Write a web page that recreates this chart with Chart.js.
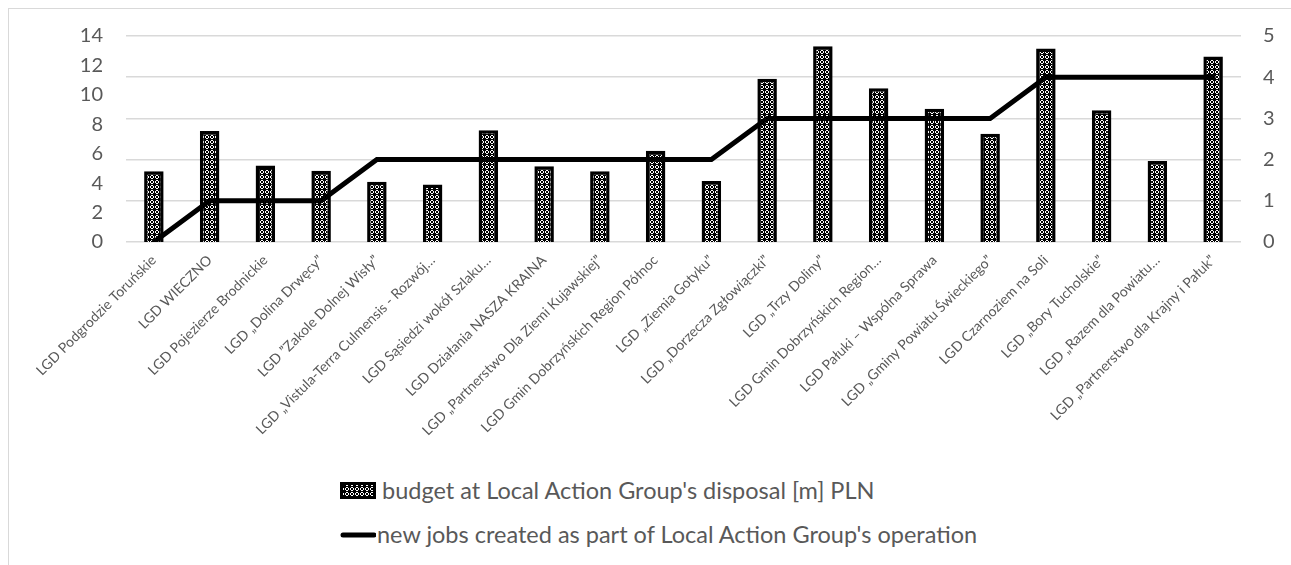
<!DOCTYPE html>
<html>
<head>
<meta charset="utf-8">
<script src="https://cdn.jsdelivr.net/npm/chart.js@4.4.1/dist/chart.umd.min.js"></script>
<style>
  html, body { margin:0; padding:0; background:#fff; width:1291px; height:565px; overflow:hidden; }
  #frame { position:absolute; left:8px; top:8px; width:1400px; height:700px; border-left:1px solid #d9d9d9; border-top:1px solid #d9d9d9; }
  #c { position:absolute; left:0; top:0; }
  .leg { position:absolute; font-family: Lato, "Noto Sans", sans-serif; font-size:23.5px; color:#595959; white-space:nowrap; line-height:28px; }
  .leg canvas, .leg span { vertical-align:middle; }
</style>
</head>
<body>
<div id="frame"></div>
<canvas id="c" width="1291" height="470"></canvas>
<div class="leg" id="leg1" style="left:340px; top:473px;"><canvas id="sw" width="36" height="17" style="margin-right:6px;"></canvas><span>budget at Local Action Group's disposal [m] PLN</span></div>
<div class="leg" id="leg2" style="left:340px; top:517px;"><canvas id="ln" width="36" height="17" style="margin-right:1px;"></canvas><span>new jobs created as part of Local Action Group's operation</span></div>
<script>
const categories = [
  "LGD Podgrodzie Toruńskie",
  "LGD WIECZNO",
  "LGD Pojezierze Brodnickie",
  "LGD „Dolina Drwęcy”",
  "LGD ”Zakole Dolnej Wisły”",
  "LGD „Vistula-Terra Culmensis - Rozwój…",
  "LGD Sąsiedzi wokół Szlaku…",
  "LGD Działania NASZA KRAINA",
  "LGD „Partnerstwo Dla Ziemi Kujawskiej”",
  "LGD Gmin Dobrzyńskich Region Północ",
  "LGD „Ziemia Gotyku”",
  "LGD „Dorzecza Zgłowiączki”",
  "LGD „Trzy Doliny”",
  "LGD Gmin Dobrzyńskich Region…",
  "LGD Pałuki – Wspólna Sprawa",
  "LGD „Gminy Powiatu Świeckiego”",
  "LGD Czarnoziem na Soli",
  "LGD „Bory Tucholskie”",
  "LGD „Razem dla Powiatu…",
  "LGD „Partnerstwo dla Krajny i Pałuk”"
];
const budget = [4.8, 7.55, 5.2, 4.85, 4.1, 3.9, 7.6, 5.15, 4.8, 6.2, 4.15, 11.1, 13.3, 10.45, 9.05, 7.35, 13.15, 8.95, 5.5, 12.6];
const jobs = [0, 1, 1, 1, 2, 2, 2, 2, 2, 2, 2, 3, 3, 3, 3, 3, 4, 4, 4, 4];
const leftTicks = { min: 0, max: 14, step: 2 };
const rightTicks = { min: 0, max: 5, step: 1 };
const seriesNames = ["budget at Local Action Group's disposal [m] PLN", "new jobs created as part of Local Action Group's operation"];

function makePattern(ctx) {
  const t = document.createElement('canvas');
  t.width = 5; t.height = 5;
  const tc = t.getContext('2d');
  tc.fillStyle = '#000'; tc.fillRect(0, 0, 5, 5);
  tc.fillStyle = '#fff';
  const px = [[1,0],[2,0],[0,1],[3,1],[0,2],[3,2],[1,3],[2,3]];
  px.forEach(p => tc.fillRect(p[0], p[1], 1, 1));
  return ctx.createPattern(t, 'repeat');
}

const ctx = document.getElementById('c').getContext('2d');
const pattern = makePattern(ctx);

// legend swatches
(function(){
  const s = document.getElementById('sw').getContext('2d');
  s.fillStyle = makePattern(s); s.fillRect(0, 0, 36, 17);
  s.strokeStyle = '#000'; s.lineWidth = 3; s.strokeRect(1.5, 1.5, 33, 14);
  const l = document.getElementById('ln').getContext('2d');
  l.strokeStyle = '#000'; l.lineWidth = 5; l.lineCap = 'round';
  l.beginPath(); l.moveTo(3, 9); l.lineTo(34, 9); l.stroke();
})();

new Chart(ctx, {
  data: {
    labels: categories,
    datasets: [
      {
        type: 'line', label: seriesNames[1], data: jobs, yAxisID: 'y1',
        borderColor: '#000', borderWidth: 5, pointRadius: 0, tension: 0, order: 0,
        borderJoinStyle: 'miter', borderCapStyle: 'round'
      },
      {
        type: 'bar', label: seriesNames[0], data: budget, yAxisID: 'y',
        backgroundColor: pattern, borderColor: '#000', borderWidth: 3.5,
        barPercentage: 0.35, categoryPercentage: 1, order: 1
      }
    ]
  },
  options: {
    responsive: false,
    animation: false,
    devicePixelRatio: 1,
    layout: { padding: { top: 36, left: 0, right: 0, bottom: 0 } },
    plugins: { legend: { display: false }, tooltip: { enabled: false } },
    scales: {
      x: {
        offset: true,
        grid: { display: false },
        border: { display: false },
        ticks: {
          autoSkip: false, minRotation: 45, maxRotation: 45, padding: 2,
          color: '#595959', font: { family: 'Lato', size: 14 }
        },
        afterFit: s => { s.height = 470 - 36 - 206; }
      },
      y: {
        position: 'left', min: leftTicks.min, max: leftTicks.max,
        grid: { display: false, drawTicks: false },
        border: { display: false },
        ticks: { stepSize: leftTicks.step, padding: 23, color: '#595959', font: { family: 'Lato', size: 20 } },
        afterFit: s => { s.width = 126; }
      },
      y1: {
        position: 'right', min: rightTicks.min, max: rightTicks.max,
        grid: { color: '#d9d9d9', lineWidth: 1.5, drawTicks: false },
        border: { display: false },
        ticks: { stepSize: rightTicks.step, padding: 22, color: '#595959', font: { family: 'Lato', size: 20 } },
        afterFit: s => { s.width = 50; }
      }
    }
  }
});
</script>
</body>
</html>
